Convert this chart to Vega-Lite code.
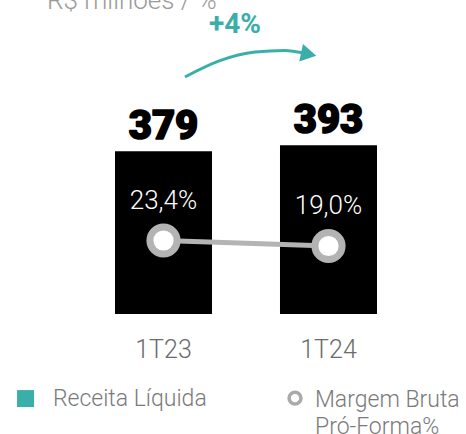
{
  "$schema": "https://vega.github.io/schema/vega-lite/v6.json",
  "width": 330,
  "height": 240,
  "autosize": {"type": "none"},
  "padding": {"left": 81, "top": 74, "right": 55, "bottom": 120},
  "background": "white",
  "config": {"view": {"stroke": null}, "font": "Roboto"},
  "datasets": {
    "dados": [
      {"periodo": "1T23", "receita": 379, "margem": 23.4, "rotulo": "23,4%"},
      {"periodo": "1T24", "receita": 393, "margem": 19.0, "rotulo": "19,0%"}
    ],
    "titulo": [{"ax": -0.206, "ay": 711, "txt": "R$ milhões / %"}],
    "variacao": [{"ax": 0.933, "ay": 655, "txt": "+4%"}],
    "seta": [
      {"i": 0, "ax": 0.630, "ay": 552},
      {"i": 1, "ax": 0.842, "ay": 590},
      {"i": 2, "ax": 1.055, "ay": 610},
      {"i": 3, "ax": 1.236, "ay": 614},
      {"i": 4, "ax": 1.35, "ay": 608}
    ],
    "ponta": [{"ax": 1.38, "ay": 605}],
    "leg_receita": [{"ax": -0.336, "ay": -197, "tx": -0.170, "ty": -214.5, "txt": "Receita Líquida"}],
    "leg_margem": [{"ax": 1.297, "ay": -196, "tx": 1.418, "ty": -216.8, "txt": "Margem Bruta\nPró-Forma%"}]
  },
  "layer": [
    {
      "data": {"name": "dados"},
      "layer": [
        {
          "encoding": {
            "x": {
              "field": "periodo", "type": "nominal", "sort": null,
              "scale": {"paddingInner": 0.412, "paddingOuter": 0.206},
              "axis": {"title": null, "domain": false, "ticks": false, "tickSize": 0, "labelAngle": 0,
                       "labelFont": "Roboto", "labelFontWeight": 300, "labelFontSize": 25,
                       "labelColor": "#6b6b6b", "labelBaseline": "alphabetic", "labelPadding": 43}
            },
            "y": {"field": "receita", "type": "quantitative", "scale": {"domain": [0, 559]}, "axis": null}
          },
          "layer": [
            {"mark": {"type": "bar", "color": "#000000"}},
            {"mark": {"type": "text", "font": "Roboto", "fontWeight": 900, "fontSize": 40, "color": "#000000",
                      "stroke": "#000000", "strokeWidth": 1.6, "strokeJoin": "round",
                      "baseline": "alphabetic", "dy": -12},
             "encoding": {"text": {"field": "receita", "type": "quantitative"}}}
          ]
        },
        {
          "encoding": {
            "x": {"field": "periodo", "type": "nominal", "sort": null},
            "y": {"field": "margem", "type": "quantitative", "scale": {"domain": [-35.4, 156.6]}, "axis": null}
          },
          "layer": [
            {"mark": {"type": "line", "color": "#b4b4b4", "strokeWidth": 5}},
            {"mark": {"type": "point", "shape": "circle", "filled": true, "fill": "#ffffff", "stroke": "#b3b3b3",
                      "strokeWidth": 7, "size": 740, "opacity": 1}},
            {"mark": {"type": "text", "font": "Roboto", "fontWeight": 300, "fontSize": 26, "color": "#ffffff",
                      "baseline": "middle", "dy": -40},
             "encoding": {"text": {"field": "rotulo", "type": "nominal"}}}
          ]
        }
      ],
      "resolve": {"scale": {"y": "independent"}}
    },
    {
      "encoding": {
        "x": {"field": "ax", "type": "quantitative", "scale": {"domain": [0, 2]}, "axis": null},
        "y": {"field": "ay", "type": "quantitative", "scale": {"domain": [0, 559]}, "axis": null}
      },
      "layer": [
        {"data": {"name": "titulo"},
         "mark": {"type": "text", "font": "Roboto", "fontWeight": 300, "fontSize": 26, "color": "#9a9a9a",
                  "align": "left", "baseline": "alphabetic"},
         "encoding": {"text": {"field": "txt"}}},
        {"data": {"name": "variacao"},
         "mark": {"type": "text", "font": "Roboto", "fontWeight": 700, "fontSize": 28, "color": "#3aafa9",
                  "align": "center", "baseline": "alphabetic"},
         "encoding": {"text": {"field": "txt"}}},
        {"data": {"name": "seta"},
         "mark": {"type": "line", "color": "#3aafa9", "strokeWidth": 3, "interpolate": "monotone"},
         "encoding": {"order": {"field": "i"}}},
        {"data": {"name": "ponta"},
         "mark": {"type": "point", "shape": "triangle-right", "filled": true, "color": "#3aafa9", "size": 320,
                  "angle": 12, "opacity": 1}},
        {"data": {"name": "leg_receita"},
         "layer": [
           {"mark": {"type": "point", "shape": "square", "filled": true, "color": "#3aafa9", "size": 289, "opacity": 1}},
           {"mark": {"type": "text", "font": "Roboto", "fontWeight": 300, "fontSize": 23, "color": "#7a7a7a",
                     "align": "left", "baseline": "alphabetic"},
            "encoding": {"x": {"field": "tx", "type": "quantitative"}, "y": {"field": "ty", "type": "quantitative"},
                         "text": {"field": "txt"}}}
         ]},
        {"data": {"name": "leg_margem"},
         "layer": [
           {"mark": {"type": "point", "shape": "circle", "filled": true, "fill": "#ffffff", "stroke": "#aaaaaa",
                     "strokeWidth": 3.5, "size": 141, "opacity": 1}},
           {"mark": {"type": "text", "font": "Roboto", "fontWeight": 300, "fontSize": 23, "color": "#7a7a7a",
                     "align": "left", "baseline": "alphabetic", "lineBreak": "\n", "lineHeight": 27},
            "encoding": {"x": {"field": "tx", "type": "quantitative"}, "y": {"field": "ty", "type": "quantitative"},
                         "text": {"field": "txt"}}}
         ]}
      ]
    }
  ],
  "resolve": {"scale": {"x": "independent", "y": "independent"}}
}
